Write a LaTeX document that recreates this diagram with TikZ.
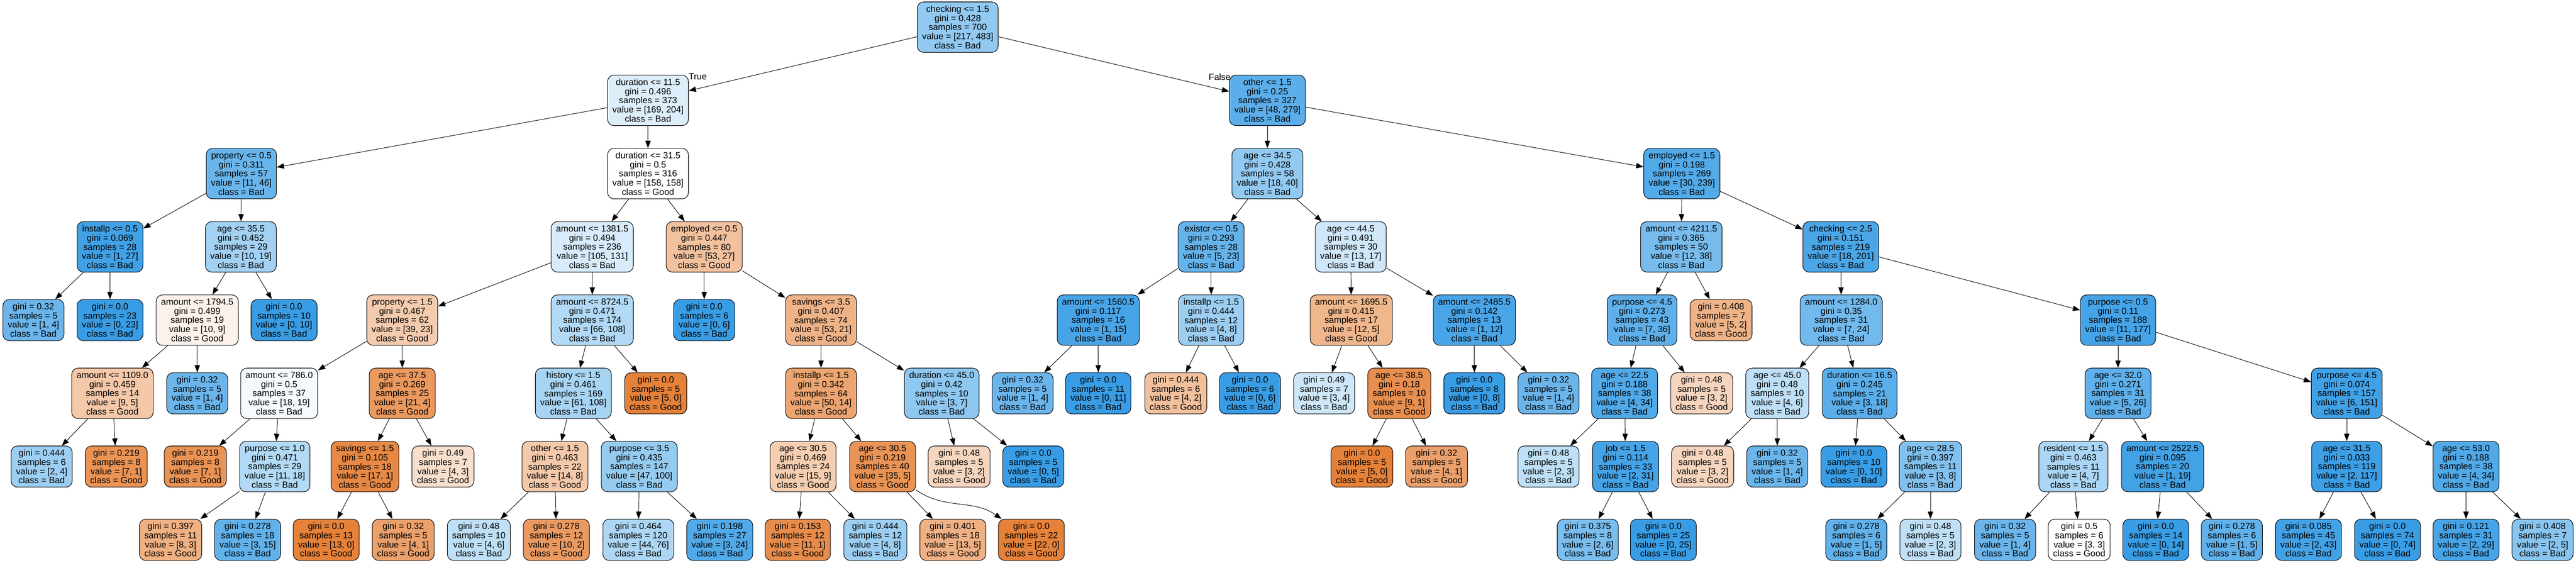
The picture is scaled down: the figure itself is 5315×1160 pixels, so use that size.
\documentclass[tikz,border=0pt]{standalone}
\usepackage{fontspec}
\setmainfont{Liberation Sans}
\usepackage{tikz}
\usetikzlibrary{arrows.meta,positioning}
\definecolor{good}{RGB}{229,129,57}
\definecolor{bad}{RGB}{57,157,229}

\begin{document}
\begin{tikzpicture}[x=1pt, y=1pt,
  box/.style={draw, rounded corners=13pt, align=center, inner xsep=10pt, inner ysep=0pt,
    line width=1.1pt, font=\fontsize{18.4}{18.8}\selectfont},
  split/.style={box, minimum height=104pt},
  leaf/.style={box, minimum height=85pt},
  good/.style={fill=good!#1}, bad/.style={fill=bad!#1},
  edge/.style={-{Triangle[length=15pt,width=11pt]}, line width=1pt},
  lbl/.style={inner sep=0pt, font=\fontsize{18.4}{18.8}\selectfont}]
\useasboundingbox (0,0) rectangle (5315,1160);

% level 0 and 1
\node[split, bad=55] (root) at (1976,1104) {checking <= 1.5\\gini = 0.428\\samples = 700\\value = [217, 483]\\class = Bad};
\node[split, bad=17] (dur1) at (1337,953) {duration <= 11.5\\gini = 0.496\\samples = 373\\value = [169, 204]\\class = Bad};
\node[split, bad=83] (oth1) at (2615,953) {other <= 1.5\\gini = 0.25\\samples = 327\\value = [48, 279]\\class = Bad};

% level 2
\node[split, bad=76] (prop2) at (498,802) {property <= 0.5\\gini = 0.311\\samples = 57\\value = [11, 46]\\class = Bad};
\node[split, fill=white] (dur2) at (1337,802) {duration <= 31.5\\gini = 0.5\\samples = 316\\value = [158, 158]\\class = Good};
\node[split, bad=55] (age2) at (2615,802) {age <= 34.5\\gini = 0.428\\samples = 58\\value = [18, 40]\\class = Bad};
\node[split, bad=87] (emp2) at (3470,802) {employed <= 1.5\\gini = 0.198\\samples = 269\\value = [30, 239]\\class = Bad};

% level 3
\node[split, bad=96] (inst3) at (227,651) {installp <= 0.5\\gini = 0.069\\samples = 28\\value = [1, 27]\\class = Bad};
\node[split, bad=47] (age3) at (497,651) {age <= 35.5\\gini = 0.452\\samples = 29\\value = [10, 19]\\class = Bad};
\node[split, bad=20] (amt3) at (1222,651) {amount <= 1381.5\\gini = 0.494\\samples = 236\\value = [105, 131]\\class = Bad};
\node[split, good=49] (emp3) at (1453,651) {employed <= 0.5\\gini = 0.447\\samples = 80\\value = [53, 27]\\class = Good};
\node[split, bad=78] (ex3) at (2499,651) {existcr <= 0.5\\gini = 0.293\\samples = 28\\value = [5, 23]\\class = Bad};
\node[split, bad=24] (ageb3) at (2787,651) {age <= 44.5\\gini = 0.491\\samples = 30\\value = [13, 17]\\class = Bad};
\node[split, bad=68] (amtb3) at (3469,651) {amount <= 4211.5\\gini = 0.365\\samples = 50\\value = [12, 38]\\class = Bad};
\node[split, bad=91] (chk3) at (3798,651) {checking <= 2.5\\gini = 0.151\\samples = 219\\value = [18, 201]\\class = Bad};

% level 4
\node[leaf, bad=75] (l4a) at (69,500) {gini = 0.32\\samples = 5\\value = [1, 4]\\class = Bad};
\node[leaf, bad=100] (l4b) at (227,500) {gini = 0.0\\samples = 23\\value = [0, 23]\\class = Bad};
\node[split, good=10] (amt4) at (407,500) {amount <= 1794.5\\gini = 0.499\\samples = 19\\value = [10, 9]\\class = Good};
\node[leaf, bad=100] (l4c) at (586,500) {gini = 0.0\\samples = 10\\value = [0, 10]\\class = Bad};
\node[split, good=41] (prop4) at (830,500) {property <= 1.5\\gini = 0.467\\samples = 62\\value = [39, 23]\\class = Good};
\node[split, bad=39] (amtb4) at (1222,500) {amount <= 8724.5\\gini = 0.471\\samples = 174\\value = [66, 108]\\class = Bad};
\node[leaf, bad=100] (l4d) at (1453,500) {gini = 0.0\\samples = 6\\value = [0, 6]\\class = Bad};
\node[split, good=60] (sav4) at (1694,500) {savings <= 3.5\\gini = 0.407\\samples = 74\\value = [53, 21]\\class = Good};
\node[split, bad=93] (amtc4) at (2266,500) {amount <= 1560.5\\gini = 0.117\\samples = 16\\value = [1, 15]\\class = Bad};
\node[split, bad=50] (inst4) at (2499,500) {installp <= 1.5\\gini = 0.444\\samples = 12\\value = [4, 8]\\class = Bad};
\node[split, good=58] (amtd4) at (2788,500) {amount <= 1695.5\\gini = 0.415\\samples = 17\\value = [12, 5]\\class = Good};
\node[split, bad=92] (amte4) at (3042,500) {amount <= 2485.5\\gini = 0.142\\samples = 13\\value = [1, 12]\\class = Bad};
\node[split, bad=81] (pur4) at (3388,500) {purpose <= 4.5\\gini = 0.273\\samples = 43\\value = [7, 36]\\class = Bad};
\node[leaf, good=60] (l4e) at (3551,500) {gini = 0.408\\samples = 7\\value = [5, 2]\\class = Good};
\node[split, bad=71] (amtf4) at (3799,500) {amount <= 1284.0\\gini = 0.35\\samples = 31\\value = [7, 24]\\class = Bad};
\node[split, bad=94] (purb4) at (4370,500) {purpose <= 0.5\\gini = 0.11\\samples = 188\\value = [11, 177]\\class = Bad};

% level 5
\node[split, good=44] (amt5) at (232,349) {amount <= 1109.0\\gini = 0.459\\samples = 14\\value = [9, 5]\\class = Good};
\node[leaf, bad=75] (l5a) at (407,349) {gini = 0.32\\samples = 5\\value = [1, 4]\\class = Bad};
\node[split, bad=5] (amtb5) at (576,349) {amount <= 786.0\\gini = 0.5\\samples = 37\\value = [18, 19]\\class = Bad};
\node[split, good=81] (age5) at (830,349) {age <= 37.5\\gini = 0.269\\samples = 25\\value = [21, 4]\\class = Good};
\node[split, bad=44] (his5) at (1183,349) {history <= 1.5\\gini = 0.461\\samples = 169\\value = [61, 108]\\class = Bad};
\node[leaf, good=100] (l5b) at (1353,349) {gini = 0.0\\samples = 5\\value = [5, 0]\\class = Good};
\node[split, good=72] (inst5) at (1694,349) {installp <= 1.5\\gini = 0.342\\samples = 64\\value = [50, 14]\\class = Good};
\node[split, bad=57] (dur5) at (1943,349) {duration <= 45.0\\gini = 0.42\\samples = 10\\value = [3, 7]\\class = Bad};
\node[leaf, bad=75] (l5c) at (2110,349) {gini = 0.32\\samples = 5\\value = [1, 4]\\class = Bad};
\node[leaf, bad=100] (l5d) at (2266,349) {gini = 0.0\\samples = 11\\value = [0, 11]\\class = Bad};
\node[leaf, good=50] (l5e) at (2426,349) {gini = 0.444\\samples = 6\\value = [4, 2]\\class = Good};
\node[leaf, bad=100] (l5f) at (2579,349) {gini = 0.0\\samples = 6\\value = [0, 6]\\class = Bad};
\node[leaf, bad=25] (l5g) at (2732,349) {gini = 0.49\\samples = 7\\value = [3, 4]\\class = Bad};
\node[split, good=89] (age5b) at (2887,349) {age <= 38.5\\gini = 0.18\\samples = 10\\value = [9, 1]\\class = Good};
\node[leaf, bad=100] (l5h) at (3042,349) {gini = 0.0\\samples = 8\\value = [0, 8]\\class = Bad};
\node[leaf, bad=75] (l5i) at (3195,349) {gini = 0.32\\samples = 5\\value = [1, 4]\\class = Bad};
\node[split, bad=88] (age5c) at (3352,349) {age <= 22.5\\gini = 0.188\\samples = 38\\value = [4, 34]\\class = Bad};
\node[leaf, good=33] (l5j) at (3511,349) {gini = 0.48\\samples = 5\\value = [3, 2]\\class = Good};
\node[split, bad=33] (age5d) at (3667,349) {age <= 45.0\\gini = 0.48\\samples = 10\\value = [4, 6]\\class = Bad};
\node[split, bad=83] (dur5b) at (3837,349) {duration <= 16.5\\gini = 0.245\\samples = 21\\value = [3, 18]\\class = Bad};
\node[split, bad=81] (age5e) at (4370,349) {age <= 32.0\\gini = 0.271\\samples = 31\\value = [5, 26]\\class = Bad};
\node[split, bad=96] (pur5) at (4842,349) {purpose <= 4.5\\gini = 0.074\\samples = 157\\value = [6, 151]\\class = Bad};

% level 6
\node[leaf, bad=50] (l6a) at (86,198) {gini = 0.444\\samples = 6\\value = [2, 4]\\class = Bad};
\node[leaf, good=86] (l6b) at (240,198) {gini = 0.219\\samples = 8\\value = [7, 1]\\class = Good};
\node[leaf, good=86] (l6c) at (403,198) {gini = 0.219\\samples = 8\\value = [7, 1]\\class = Good};
\node[split, bad=39] (pur6) at (567,198) {purpose <= 1.0\\gini = 0.471\\samples = 29\\value = [11, 18]\\class = Bad};
\node[split, good=94] (sav6) at (753,198) {savings <= 1.5\\gini = 0.105\\samples = 18\\value = [17, 1]\\class = Good};
\node[leaf, good=25] (l6d) at (914,198) {gini = 0.49\\samples = 7\\value = [4, 3]\\class = Good};
\node[split, good=43] (oth6) at (1145,198) {other <= 1.5\\gini = 0.463\\samples = 22\\value = [14, 8]\\class = Good};
\node[split, bad=53] (pur6b) at (1319,198) {purpose <= 3.5\\gini = 0.435\\samples = 147\\value = [47, 100]\\class = Bad};
\node[split, good=40] (age6) at (1657,198) {age <= 30.5\\gini = 0.469\\samples = 24\\value = [15, 9]\\class = Good};
\node[split, good=86] (age6b) at (1821,198) {age <= 30.5\\gini = 0.219\\samples = 40\\value = [35, 5]\\class = Good};
\node[leaf, good=33] (l6e) at (1979,198) {gini = 0.48\\samples = 5\\value = [3, 2]\\class = Good};
\node[leaf, bad=100] (l6f) at (2132,198) {gini = 0.0\\samples = 5\\value = [0, 5]\\class = Bad};
\node[leaf, good=100] (l6g) at (2810,198) {gini = 0.0\\samples = 5\\value = [5, 0]\\class = Good};
\node[leaf, good=75] (l6h) at (2964,198) {gini = 0.32\\samples = 5\\value = [4, 1]\\class = Good};
\node[leaf, bad=33] (l6i) at (3195,198) {gini = 0.48\\samples = 5\\value = [2, 3]\\class = Bad};
\node[split, bad=94] (job6) at (3354,198) {job <= 1.5\\gini = 0.114\\samples = 33\\value = [2, 31]\\class = Bad};
\node[leaf, good=33] (l6j) at (3513,198) {gini = 0.48\\samples = 5\\value = [3, 2]\\class = Good};
\node[leaf, bad=75] (l6k) at (3667,198) {gini = 0.32\\samples = 5\\value = [1, 4]\\class = Bad};
\node[leaf, bad=100] (l6l) at (3825,198) {gini = 0.0\\samples = 10\\value = [0, 10]\\class = Bad};
\node[split, bad=63] (age6c) at (3983,198) {age <= 28.5\\gini = 0.397\\samples = 11\\value = [3, 8]\\class = Bad};
\node[split, bad=43] (res6) at (4278,198) {resident <= 1.5\\gini = 0.463\\samples = 11\\value = [4, 7]\\class = Bad};
\node[split, bad=95] (amt6) at (4462,198) {amount <= 2522.5\\gini = 0.095\\samples = 20\\value = [1, 19]\\class = Bad};
\node[split, bad=98] (age6d) at (4842,198) {age <= 31.5\\gini = 0.033\\samples = 119\\value = [2, 117]\\class = Bad};
\node[split, bad=88] (age6e) at (5088,198) {age <= 53.0\\gini = 0.188\\samples = 38\\value = [4, 34]\\class = Bad};

% level 7
\node[leaf, good=63] (l7a) at (352,47) {gini = 0.397\\samples = 11\\value = [8, 3]\\class = Good};
\node[leaf, bad=80] (l7b) at (511,47) {gini = 0.278\\samples = 18\\value = [3, 15]\\class = Bad};
\node[leaf, good=100] (l7c) at (673,47) {gini = 0.0\\samples = 13\\value = [13, 0]\\class = Good};
\node[leaf, good=75] (l7d) at (832,47) {gini = 0.32\\samples = 5\\value = [4, 1]\\class = Good};
\node[leaf, bad=33] (l7e) at (988,47) {gini = 0.48\\samples = 10\\value = [4, 6]\\class = Bad};
\node[leaf, good=80] (l7f) at (1148,47) {gini = 0.278\\samples = 12\\value = [10, 2]\\class = Good};
\node[leaf, bad=42] (l7g) at (1317,47) {gini = 0.464\\samples = 120\\value = [44, 76]\\class = Bad};
\node[leaf, bad=88] (l7h) at (1485,47) {gini = 0.198\\samples = 27\\value = [3, 24]\\class = Bad};
\node[leaf, good=91] (l7i) at (1646,47) {gini = 0.153\\samples = 12\\value = [11, 1]\\class = Good};
\node[leaf, bad=50] (l7j) at (1806,47) {gini = 0.444\\samples = 12\\value = [4, 8]\\class = Bad};
\node[leaf, good=62] (l7k) at (1966,47) {gini = 0.401\\samples = 18\\value = [13, 5]\\class = Good};
\node[leaf, good=100] (l7l) at (2128,47) {gini = 0.0\\samples = 22\\value = [22, 0]\\class = Good};
\node[leaf, bad=67] (l7m) at (3276,47) {gini = 0.375\\samples = 8\\value = [2, 6]\\class = Bad};
\node[leaf, bad=100] (l7n) at (3432,47) {gini = 0.0\\samples = 25\\value = [0, 25]\\class = Bad};
\node[leaf, bad=80] (l7o) at (3830,47) {gini = 0.278\\samples = 6\\value = [1, 5]\\class = Bad};
\node[leaf, bad=33] (l7p) at (3983,47) {gini = 0.48\\samples = 5\\value = [2, 3]\\class = Bad};
\node[leaf, bad=75] (l7q) at (4137,47) {gini = 0.32\\samples = 5\\value = [1, 4]\\class = Bad};
\node[leaf, fill=white] (l7r) at (4290,47) {gini = 0.5\\samples = 6\\value = [3, 3]\\class = Good};
\node[leaf, bad=100] (l7s) at (4448,47) {gini = 0.0\\samples = 14\\value = [0, 14]\\class = Bad};
\node[leaf, bad=80] (l7t) at (4605,47) {gini = 0.278\\samples = 6\\value = [1, 5]\\class = Bad};
\node[leaf, bad=95] (l7u) at (4763,47) {gini = 0.085\\samples = 45\\value = [2, 43]\\class = Bad};
\node[leaf, bad=100] (l7v) at (4926,47) {gini = 0.0\\samples = 74\\value = [0, 74]\\class = Bad};
\node[leaf, bad=93] (l7w) at (5088,47) {gini = 0.121\\samples = 31\\value = [2, 29]\\class = Bad};
\node[leaf, bad=60] (l7x) at (5246,47) {gini = 0.408\\samples = 7\\value = [2, 5]\\class = Bad};

\node[lbl, anchor=base west] (tlab) at ([yshift=-10pt]dur1.north east) {True};
\node[lbl, anchor=base east] (flab) at ([xshift=3pt,yshift=-11pt]oth1.north west) {False};

% edges, left half
\draw[edge] (root) -- (dur1); \draw[edge] (root) -- (oth1);
\draw[edge] (dur1) -- (prop2); \draw[edge] (dur1) -- (dur2);
\draw[edge] (prop2) -- (inst3); \draw[edge] (prop2) -- (age3);
\draw[edge] (inst3) -- (l4a); \draw[edge] (inst3) -- (l4b);
\draw[edge] (age3) -- (amt4); \draw[edge] (age3) -- (l4c);
\draw[edge] (amt4) -- (amt5); \draw[edge] (amt4) -- (l5a);
\draw[edge] (amt5) -- (l6a); \draw[edge] (amt5) -- (l6b);
\draw[edge] (dur2) -- (amt3); \draw[edge] (dur2) -- (emp3);
\draw[edge] (amt3) -- (prop4); \draw[edge] (amt3) -- (amtb4);
\draw[edge] (prop4) -- (amtb5); \draw[edge] (prop4) -- (age5);
\draw[edge] (amtb5) -- (l6c); \draw[edge] (amtb5) -- (pur6);
\draw[edge] (pur6) -- (l7a); \draw[edge] (pur6) -- (l7b);
\draw[edge] (age5) -- (sav6); \draw[edge] (age5) -- (l6d);
\draw[edge] (sav6) -- (l7c); \draw[edge] (sav6) -- (l7d);
\draw[edge] (amtb4) -- (his5); \draw[edge] (amtb4) -- (l5b);
\draw[edge] (his5) -- (oth6); \draw[edge] (his5) -- (pur6b);
\draw[edge] (oth6) -- (l7e); \draw[edge] (oth6) -- (l7f);
\draw[edge] (pur6b) -- (l7g); \draw[edge] (pur6b) -- (l7h);
\draw[edge] (emp3) -- (l4d); \draw[edge] (emp3) -- (sav4);
\draw[edge] (sav4) -- (inst5); \draw[edge] (sav4) -- (dur5);
\draw[edge] (inst5) -- (age6); \draw[edge] (inst5) -- (age6b);
\draw[edge] (age6) -- (l7i); \draw[edge] (age6) -- (l7j);
\draw[edge] (age6b) -- (l7k); \draw[edge] (age6b) to[out=-35, in=145] (l7l);
\draw[edge] (dur5) -- (l6e); \draw[edge] (dur5) -- (l6f);

% edges, right half
\draw[edge] (oth1) -- (age2); \draw[edge] (oth1) -- (emp2);
\draw[edge] (age2) -- (ex3); \draw[edge] (age2) -- (ageb3);
\draw[edge] (ex3) -- (amtc4); \draw[edge] (ex3) -- (inst4);
\draw[edge] (amtc4) -- (l5c); \draw[edge] (amtc4) -- (l5d);
\draw[edge] (inst4) -- (l5e); \draw[edge] (inst4) -- (l5f);
\draw[edge] (ageb3) -- (amtd4); \draw[edge] (ageb3) -- (amte4);
\draw[edge] (amtd4) -- (l5g); \draw[edge] (amtd4) -- (age5b);
\draw[edge] (age5b) -- (l6g); \draw[edge] (age5b) -- (l6h);
\draw[edge] (amte4) -- (l5h); \draw[edge] (amte4) -- (l5i);
\draw[edge] (emp2) -- (amtb3); \draw[edge] (emp2) -- (chk3);
\draw[edge] (amtb3) -- (pur4); \draw[edge] (amtb3) -- (l4e);
\draw[edge] (pur4) -- (age5c); \draw[edge] (pur4) -- (l5j);
\draw[edge] (age5c) -- (l6i); \draw[edge] (age5c) -- (job6);
\draw[edge] (job6) -- (l7m); \draw[edge] (job6) -- (l7n);
\draw[edge] (chk3) -- (amtf4); \draw[edge] (chk3) -- (purb4);
\draw[edge] (amtf4) -- (age5d); \draw[edge] (amtf4) -- (dur5b);
\draw[edge] (age5d) -- (l6j); \draw[edge] (age5d) -- (l6k);
\draw[edge] (dur5b) -- (l6l); \draw[edge] (dur5b) -- (age6c);
\draw[edge] (age6c) -- (l7o); \draw[edge] (age6c) -- (l7p);
\draw[edge] (purb4) -- (age5e); \draw[edge] (purb4) -- (pur5);
\draw[edge] (age5e) -- (res6); \draw[edge] (age5e) -- (amt6);
\draw[edge] (res6) -- (l7q); \draw[edge] (res6) -- (l7r);
\draw[edge] (amt6) -- (l7s); \draw[edge] (amt6) -- (l7t);
\draw[edge] (pur5) -- (age6d); \draw[edge] (pur5) -- (age6e);
\draw[edge] (age6d) -- (l7u); \draw[edge] (age6d) -- (l7v);
\draw[edge] (age6e) -- (l7w); \draw[edge] (age6e) -- (l7x);
\end{tikzpicture}
\end{document}
